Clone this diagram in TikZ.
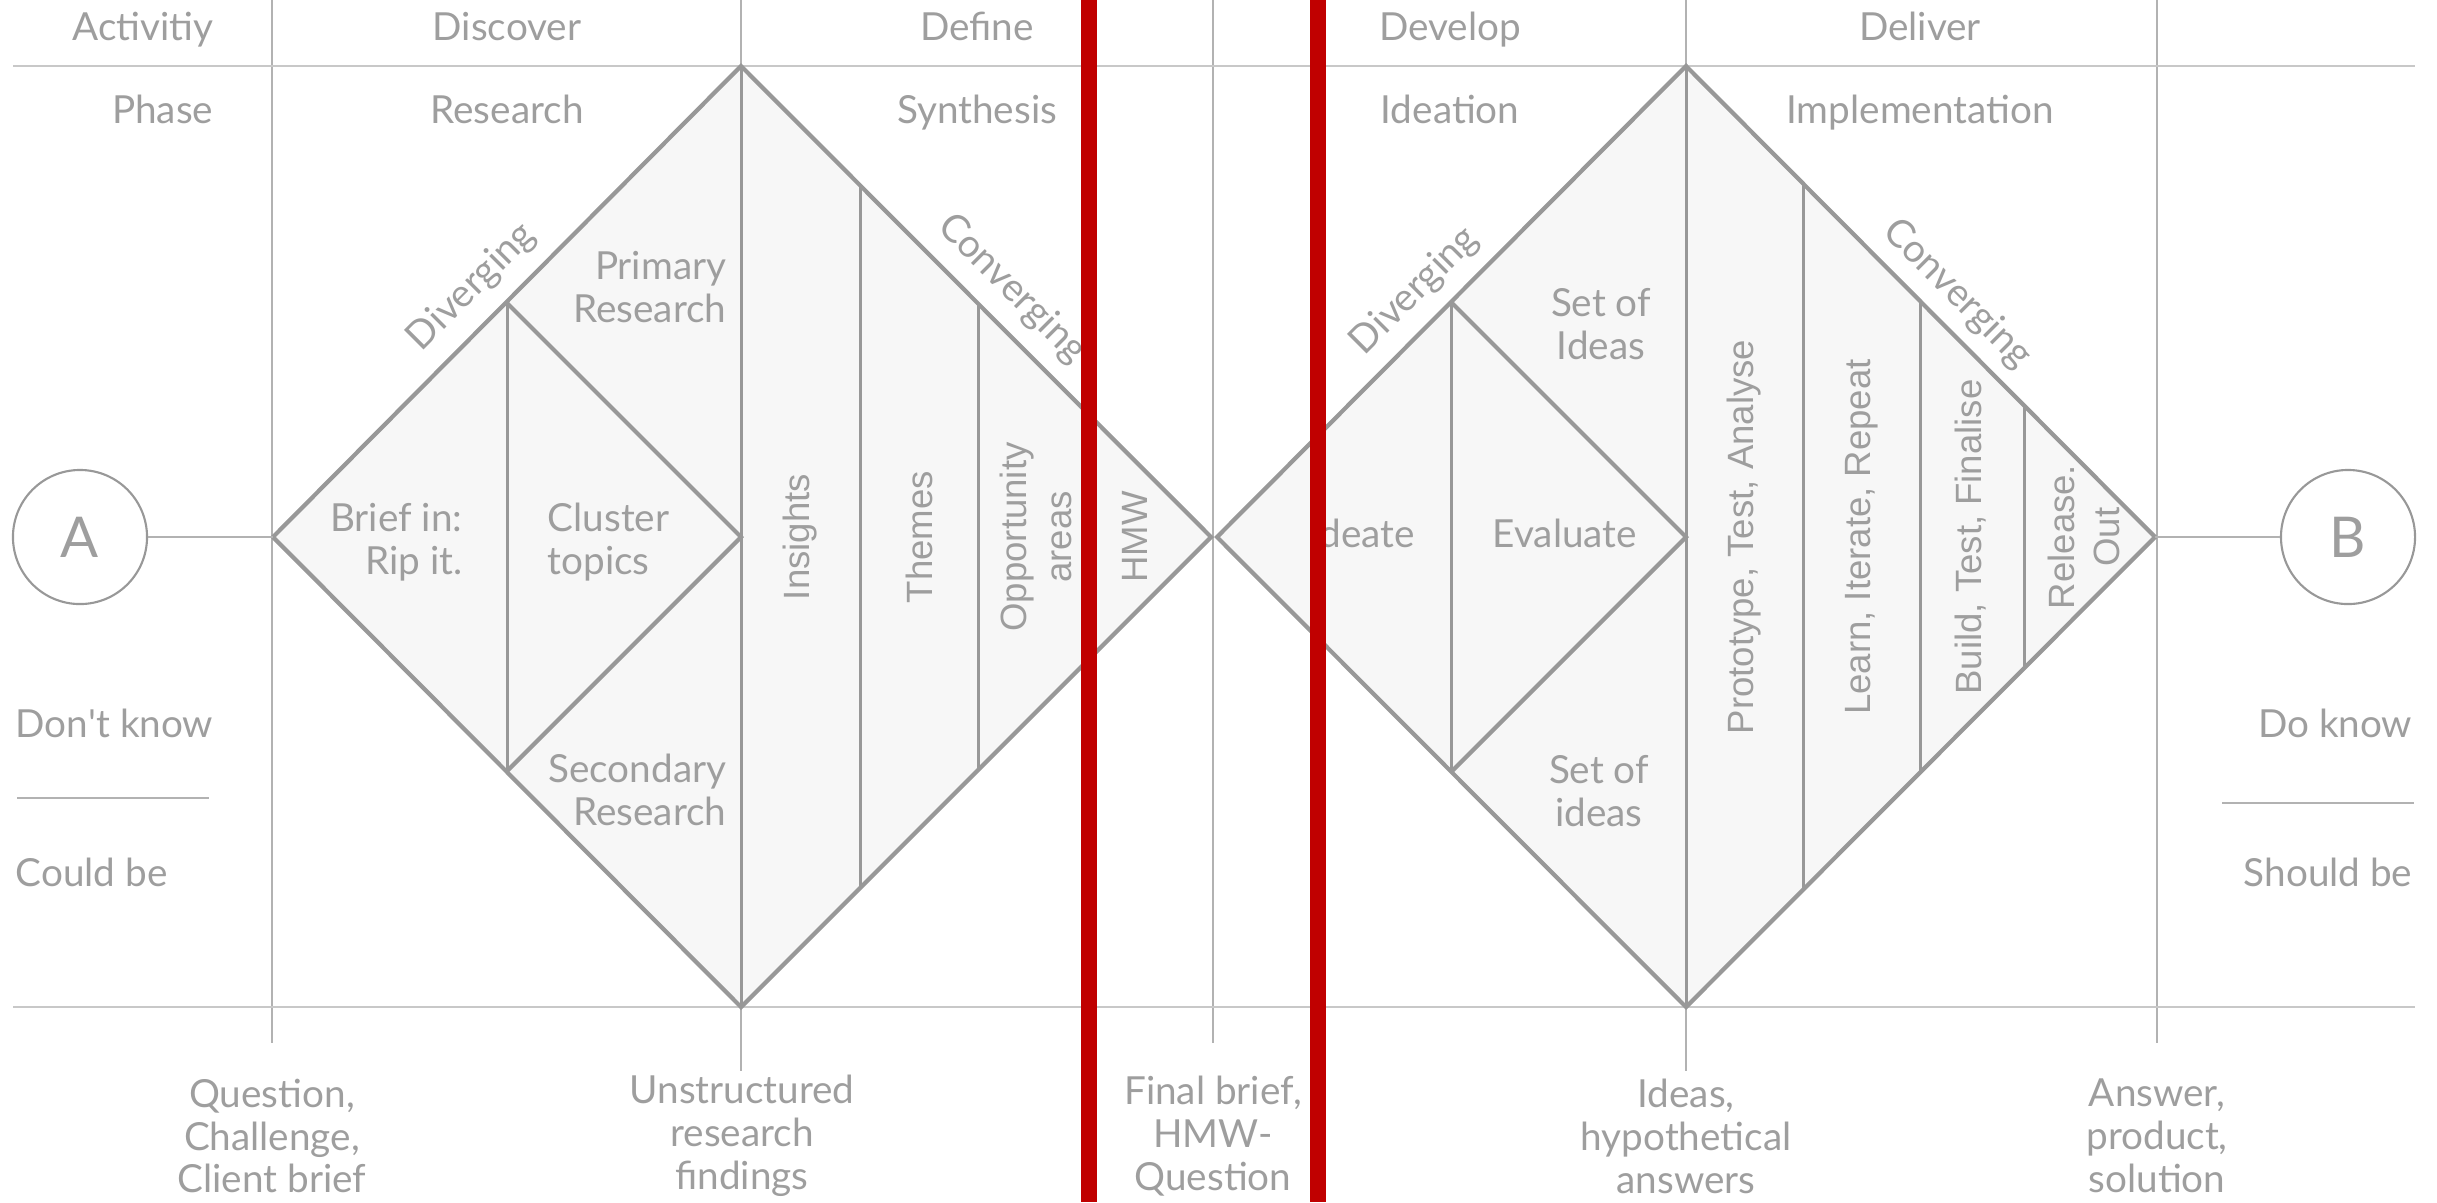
\documentclass[tikz,border=0pt]{standalone}
\usepackage{fontspec}
\setmainfont{Lato}
\newfontfamily\vfont{Liberation Sans}
\usetikzlibrary{positioning}

\definecolor{linegray}{RGB}{152,152,152}
\definecolor{textgray}{RGB}{158,158,158}
\definecolor{gridgray}{RGB}{178,178,178}
\definecolor{rulegray}{RGB}{200,200,200}
\definecolor{paperfill}{RGB}{247,247,247}
\definecolor{cutred}{RGB}{192,0,0}

\begin{document}
\begin{tikzpicture}[x=0.01cm, y=-0.01cm,
    lbl/.style={text=textgray, font=\fontsize{11}{12.2}\selectfont, inner sep=0pt},
    vlbl/.style={text=textgray, font=\vfont\fontsize{10.4}{12.6}\selectfont, rotate=90, align=center, inner sep=0pt},
    outline/.style={draw=linegray, line width=1.2pt, line join=miter},
    divider/.style={draw=linegray, line width=0.85pt},
    colline/.style={draw=gridgray, line width=0.4pt},
    rowline/.style={draw=rulegray, line width=0.55pt},
    endpt/.style={circle, draw=linegray, line width=0.6pt, minimum size=1.34cm, inner sep=0pt, text=textgray, font=\fontsize{16}{18}\selectfont},
    cut/.style={draw=cutred, line width=4.4pt}]
    \useasboundingbox (0,0) rectangle (2437,1202);

    % Column and row lines
    \foreach \cx/\cy in {272/1043, 741/1071, 1213/1043, 1686/1071, 2157/1043}
      \draw[colline] (\cx,0) -- (\cx,\cy);
    \draw[rowline] (13,66) -- (2415,66);
    \draw[rowline] (13,1007) -- (2415,1007);

    % Header rows
    \node[lbl, anchor=base east] (act) at (214,40) {Activitiy};
    \node[lbl, anchor=base east] (phase) at (214,123) {Phase};
    \node[lbl, anchor=base] (discover) at (507,40) {Discover};
    \node[lbl, anchor=base] (research) at (507,123) {Research};
    \node[lbl, anchor=base] (define) at (977,40) {Define};
    \node[lbl, anchor=base] (synthesis) at (977,123) {Synthesis};
    \node[lbl, anchor=base] (develop) at (1450,40) {Develop};
    \node[lbl, anchor=base] (ideation) at (1450,123) {Ideation};
    \node[lbl, anchor=base] (deliver) at (1920,40) {Deliver};
    \node[lbl, anchor=base] (implement) at (1920,123) {Implementation};

    % First diamond
    \coordinate (aL) at (273,537);
    \coordinate (aT) at (741,66);
    \coordinate (aR) at (1211,537);
    \coordinate (aB) at (741,1007);
    \fill[paperfill] (aL) -- (aT) -- (aR) -- (aB) -- cycle;
    \draw[divider] (507,303) -- (507,771);
    \draw[divider] (aT) -- (aB);
    \draw[divider] (860,185) -- (860,888);
    \draw[divider] (978,303) -- (978,771);
    \draw[outline] (507,303) -- (741,537) -- (507,771);
    \draw[outline] (aL) -- (aT) -- (aR) -- (aB) -- cycle;

    % Second diamond
    \coordinate (bL) at (1217,537);
    \coordinate (bT) at (1686,66);
    \coordinate (bR) at (2155,537);
    \coordinate (bB) at (1686,1007);
    \fill[paperfill] (bL) -- (bT) -- (bR) -- (bB) -- cycle;
    \draw[divider] (1451,302) -- (1451,772);
    \draw[divider] (bT) -- (bB);
    \draw[divider] (1803,183) -- (1803,890);
    \draw[divider] (1920,300) -- (1920,773);
    \draw[divider] (2024,404) -- (2024,669);
    \draw[outline] (1451,302) -- (1686,537) -- (1451,772);
    \draw[outline] (bL) -- (bT) -- (bR) -- (bB) -- cycle;

    % Start and end
    \node[endpt] (A) at (80,537) {A};
    \node[endpt] (B) at (2348,537) {B};
    \draw[colline] (A) -- (aL);
    \draw[colline] (bR) -- (B);

    % Labels in the first diamond
    \node[lbl, rotate=45] (div1) at (472,287) {Diverging};
    \node[lbl, rotate=-45] (conv1) at (1012,289) {Converging};
    \node[lbl, align=right, anchor=east] (brief) at (463,542) {Brief in:\\Rip it.};
    \node[lbl, align=left, anchor=west] (cluster) at (547,542) {Cluster\\topics};
    \node[lbl, align=right, anchor=east] (primary) at (727,287) {Primary\\Research};
    \node[lbl, align=right, anchor=east] (secondary) at (727,790) {Secondary\\Research};
    \node[vlbl] (insights) at (800,537) {Insights};
    \node[vlbl] (themes) at (919,537) {Themes};
    \node[vlbl] (opport) at (1036,537) {Opportunity\\areas};
    \node[vlbl] (hmw) at (1135,537) {HMW};

    % Labels in the second diamond
    \node[lbl, rotate=45] (div2) at (1415,291) {Diverging};
    \node[lbl, rotate=-45] (conv2) at (1957,294) {Converging};
    \node[lbl, anchor=base] (ideate) at (1362,547) {Ideate};
    \node[lbl, anchor=base] (evaluate) at (1565,547) {Evaluate};
    \node[lbl, align=center] (setup) at (1601,324) {Set of\\Ideas};
    \node[lbl, align=center] (setdown) at (1599,791) {Set of\\ideas};
    \node[vlbl] (proto) at (1744,537) {Prototype, Test, Analyse};
    \node[vlbl] (learn) at (1862,537) {Learn, Iterate, Repeat};
    \node[vlbl] (build) at (1971,537) {Build, Test, Finalise};
    \node[vlbl] (release) at (2084,537) {Release.\\Out};

    % Know / be
    \node[lbl, anchor=base west] (dontknow) at (15,737) {Don\textquotesingle t know};
    \draw[colline] (17,798) -- (209,798);
    \node[lbl, anchor=base west] (couldbe) at (15,886) {Could be};
    \node[lbl, anchor=base east] (doknow) at (2413,737) {Do know};
    \draw[colline] (2222,803) -- (2414,803);
    \node[lbl, anchor=base east] (shouldbe) at (2413,886) {Should be};

    % Outcomes
    \node[lbl, align=center] (question) at (272,1136) {Question,\\Challenge,\\Client brief};
    \node[lbl, align=center] (unstruct) at (742,1136) {Unstructured\\research\\findings};
    \node[lbl, align=center] (final) at (1213,1136) {Final brief,\\HMW-\\Question};
    \node[lbl, align=center] (ideas) at (1686,1136) {Ideas,\\hypothetical\\answers};
    \node[lbl, align=center] (answer) at (2157,1136) {Answer,\\product,\\solution};

    % Red cuts
    \draw[cut] (1089,0) -- (1089,1202);
    \draw[cut] (1318,0) -- (1318,1202);
\end{tikzpicture}
\end{document}
